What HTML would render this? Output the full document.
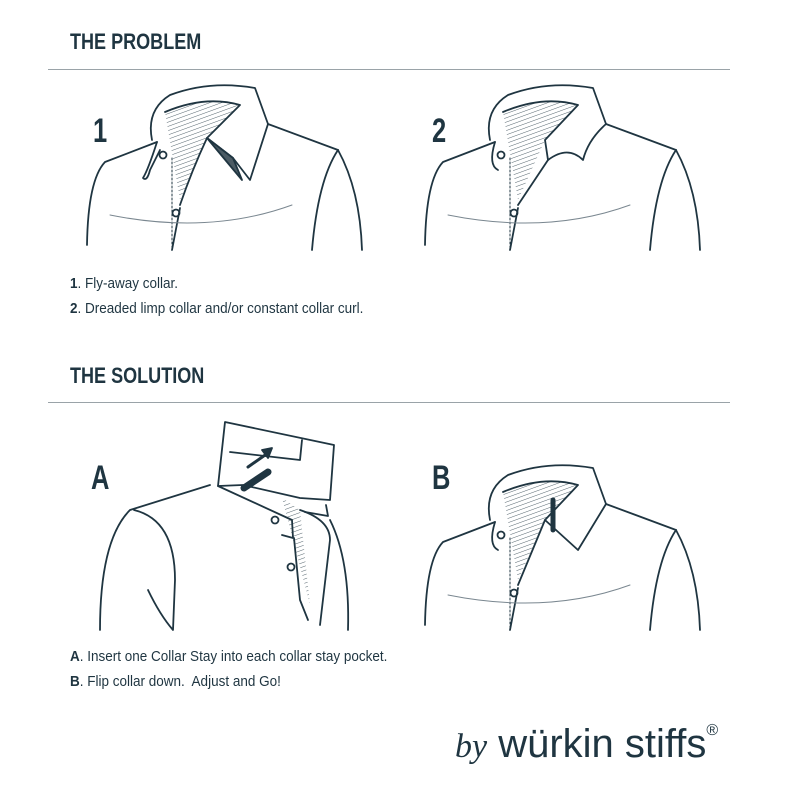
<!DOCTYPE html>
<html><head><meta charset="utf-8"><style>
body{margin:0;background:#fff;width:800px;height:800px;overflow:hidden;position:relative;font-family:"Liberation Sans",sans-serif;color:#1f3541}
.h{position:absolute;font-weight:bold;font-size:22px;letter-spacing:0px;transform:scaleX(0.82);transform-origin:left}
.n{position:absolute;font-weight:bold;font-size:34px;transform:scaleX(0.75);transform-origin:left}
.t{position:absolute;font-size:15px;transform:scaleX(0.9);transform-origin:left}
.rule{position:absolute;left:48px;width:682px;height:1px;background:#9aa3a8}
</style></head><body>
<div class="h" style="left:70px;top:29px">THE PROBLEM</div>
<div class="rule" style="top:69px"></div>
<div class="n" style="left:93px;top:112px">1</div>
<div class="n" style="left:432px;top:112px">2</div>
<div class="t" style="left:70px;top:275px"><b>1</b>. Fly-away collar.</div>
<div class="t" style="left:70px;top:300px"><b>2</b>. Dreaded limp collar and/or constant collar curl.</div>
<div class="h" style="left:70px;top:363px">THE SOLUTION</div>
<div class="rule" style="top:402px"></div>
<div class="n" style="left:91px;top:459px">A</div>
<div class="n" style="left:432px;top:459px">B</div>
<div class="t" style="left:70px;top:648px"><b>A</b>. Insert one Collar Stay into each collar stay pocket.</div>
<div class="t" style="left:70px;top:673px"><b>B</b>. Flip collar down.&nbsp; Adjust and Go!</div>
<div style="position:absolute;left:455px;top:722px;font-size:40px;color:#1f3541"><i style="font-family:'Liberation Serif',serif;font-size:34px">by</i> würkin stiffs<span style="font-size:16px;vertical-align:top">®</span></div>
<svg width="800" height="800" style="position:absolute;left:0;top:0" fill="none" stroke="#1f3541" stroke-width="1.8" stroke-linejoin="round" stroke-linecap="round">
<defs><pattern id="hp" width="4" height="4" patternUnits="userSpaceOnUse" patternTransform="rotate(70)"><line x1="0" y1="0" x2="0" y2="4" stroke="#55656e" stroke-width="1"/></pattern></defs>
<g id="s1">
<path d="M165,112 Q205,95 240,105 L207,138 L180,200 Z" fill="url(#hp)" stroke="none"/>
<path d="M157,142 L105,162 Q88,180 87,245"/>
<path d="M152,140 Q146,110 170,95 Q210,80 255,88 L268,124 L250,180 L233,158 L207,138 Q192,170 180,205"/>
<path d="M165,112 Q205,95 240,105 L207,138"/>
<path d="M157,142 Q148,170 143,178 Q147,182 150,170 L160,150"/>
<circle cx="163" cy="155" r="3.5"/><circle cx="176" cy="213" r="3.5"/>
<path d="M172,158 L172,250" stroke-dasharray="2 2" stroke-width="1"/>
<path d="M268,124 L338,150"/><path d="M338,150 Q318,180 312,250"/><path d="M338,150 Q360,190 362,250"/>
<path d="M180,208 L172,250"/>
<path d="M207,138 L233,158 L242,180 Z" fill="#4b5b64" stroke="#1f3541"/>
<path d="M110,215 Q210,235 292,205" stroke-width="1" stroke="#7a8790"/>
</g>
<g transform="translate(338,0)">
<path d="M165,112 Q205,95 240,105 L207,140 L180,200 Z" fill="url(#hp)" stroke="none"/>
<path d="M157,142 L105,162 Q88,180 87,245"/>
<path d="M152,140 Q146,110 170,95 Q210,80 255,88 L268,124 Q250,140 245,160 Q230,145 210,160 L180,205"/>
<path d="M165,112 Q205,95 240,105 L207,140 L210,160"/>
<path d="M157,142 Q150,165 160,170"/>
<circle cx="163" cy="155" r="3.5"/><circle cx="176" cy="213" r="3.5"/>
<path d="M172,158 L172,250" stroke-dasharray="2 2" stroke-width="1"/>
<path d="M268,124 L338,150"/><path d="M338,150 Q318,180 312,250"/><path d="M338,150 Q360,190 362,250"/>
<path d="M180,208 L172,250"/>
<path d="M110,215 Q210,235 292,205" stroke-width="1" stroke="#7a8790"/>
</g>
<g id="sA">
<path d="M282,498 L300,510 L310,605 Z" fill="url(#hp)" stroke="none"/>
<path d="M225,422 L334,445 L330,500 L300,498 L243,485 L218,486 Z" fill="#fff"/>
<path d="M218,486 L292,520 L293,538 L282,535"/>
<path d="M210,485 L130,510 Q100,540 100,630"/>
<path d="M134,510 Q175,520 175,580 L173,630 Q160,615 148,590"/>
<path d="M294,538 L300,600 L308,620"/>
<path d="M300,510 Q330,520 330,540 L320,625"/>
<path d="M330,520 Q350,560 348,630"/>
<path d="M305,512 L328,516 L326,505"/>
<circle cx="275" cy="520" r="3.5"/><circle cx="291" cy="567" r="3.5"/>
<path d="M244,488 L268,472" stroke-width="7"/>
<path d="M248,467 L268,453" stroke-width="3"/><path d="M262,450 L272,448 L268,458 Z" fill="#1f3541"/>
<path d="M230,452 L300,460 L302,440"/>
</g>
<g transform="translate(338,380)">
<path d="M165,112 Q205,95 240,105 L207,140 L180,200 Z" fill="url(#hp)" stroke="none"/>
<path d="M157,142 L105,162 Q88,180 87,245"/>
<path d="M152,140 Q146,110 170,95 Q210,80 255,88 L268,124 L240,170 L207,140 L180,205"/>
<path d="M165,112 Q205,95 240,105 L207,140"/>
<path d="M157,142 Q150,165 160,170"/>
<circle cx="163" cy="155" r="3.5"/><circle cx="176" cy="213" r="3.5"/>
<path d="M172,158 L172,250" stroke-dasharray="2 2" stroke-width="1"/>
<path d="M268,124 L338,150"/><path d="M338,150 Q318,180 312,250"/><path d="M338,150 Q360,190 362,250"/>
<path d="M180,208 L172,250"/>
<path d="M215,120 L215,150" stroke-width="5"/>
<path d="M110,215 Q210,235 292,205" stroke-width="1" stroke="#7a8790"/>
</g>
</svg>
</body></html>
